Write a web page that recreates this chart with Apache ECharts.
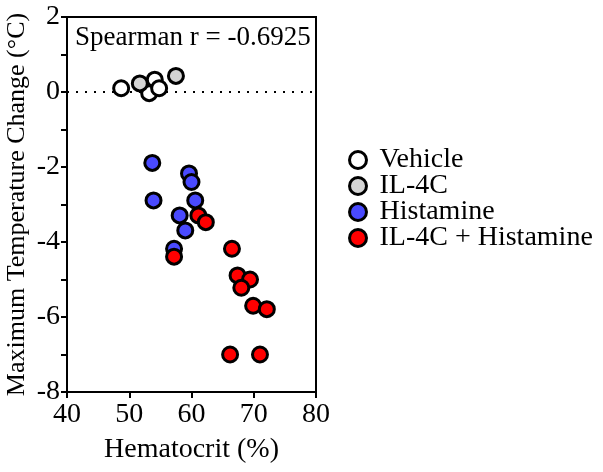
<!DOCTYPE html>
<html>
<head>
<meta charset="utf-8">
<script src="https://cdn.jsdelivr.net/npm/echarts@6/dist/echarts.min.js"></script>
<style>
  html, body { margin: 0; padding: 0; background: #fff; }
  #container { width: 603px; height: 472px; }
</style>
</head>
<body>
<div id="container"></div>
<script>
// hematocrit (%) vs max temperature change (°C), one array per group
var vehicle = [[48.7, 0.1], [53.2, -0.03], [54.1, 0.33], [54.8, 0.1]];
var il4c = [[51.7, 0.23], [57.5, 0.43]];
var histamine = [[53.7, -1.89], [59.6, -2.17], [60.0, -2.4], [53.9, -2.89], [60.6, -2.89],
                 [58.1, -3.29], [59.0, -3.69], [57.2, -4.18]];
var il4cHistamine = [[61.1, -3.29], [62.3, -3.47], [66.5, -4.18], [57.2, -4.39], [67.4, -4.89],
                     [69.4, -5.0], [68.0, -5.22], [69.9, -5.7], [72.1, -5.79], [66.2, -7.0], [71.0, -7.0]];
var zeroLine = [[40, 0], [80, 0]];

var groupNames = ['Vehicle', 'IL-4C', 'Histamine', 'IL-4C + Histamine'];
var groupColors = ['#ffffff', '#d4d4d4', '#4a4aff', '#ff0000'];
var xTicks = [40, 50, 60, 70, 80];
var yLabelTicks = [-8, -6, -4, -2, 0, 2];
var statText = 'Spearman r = -0.6925';

var serif = 'Liberation Serif';

function makeSeries(name, color, data){
    return {
        name: name,
        type: 'scatter',
        data: data,
        symbol: 'circle',
        symbolSize: 15,
        z: 3,
        itemStyle: {
            color: color,
            borderColor: '#000',
            borderWidth: 3,
            opacity: 1
        }
    };
}

var chart = echarts.init(document.getElementById('container'));

var series = [
    {
        name: 'zero',
        type: 'line',
        data: zeroLine,
        symbol: 'none',
        silent: true,
        z: 1,
        lineStyle: { color: '#000', width: 2, type: [2, 7] }
    },
    makeSeries(groupNames[0], groupColors[0], vehicle),
    makeSeries(groupNames[1], groupColors[1], il4c),
    makeSeries(groupNames[2], groupColors[2], histamine),
    makeSeries(groupNames[3], groupColors[3], il4cHistamine)
];

var option = {
    backgroundColor: '#fff',
    animation: false,
    textStyle: { fontFamily: serif },
    title: {
        text: statText,
        left: 70,
        top: 19,
        textStyle: { fontFamily: serif, fontSize: 27, fontWeight: 'normal', color: '#000' }
    },
    legend: {
        orient: 'vertical',
        left: 343,
        top: 141,
        itemGap: -2,
        itemWidth: 17,
        itemHeight: 17,
        icon: 'circle',
        itemStyle: { borderWidth: 3, borderColor: '#000' },
        textStyle: { fontFamily: serif, fontSize: 28, color: '#000', padding: [0, 0, 0, 8] },
        data: groupNames
    },
    grid: {
        left: 67,
        right: 287,
        top: 17,
        bottom: 80,
        show: true,
        borderColor: '#000',
        borderWidth: 2,
        backgroundColor: 'transparent'
    },
    xAxis: {
        type: 'value',
        min: xTicks[0],
        max: xTicks[xTicks.length - 1],
        interval: 10,
        name: 'Hematocrit (%)',
        nameLocation: 'middle',
        nameGap: 44,
        nameTextStyle: { fontFamily: serif, fontSize: 28, color: '#000' },
        axisLine: { onZero: false, lineStyle: { color: '#000', width: 2 } },
        axisTick: { show: true, length: 6, lineStyle: { color: '#000', width: 2 } },
        axisLabel: { fontFamily: serif, fontSize: 28, color: '#000', margin: 9 },
        splitLine: { show: false }
    },
    yAxis: {
        type: 'value',
        min: yLabelTicks[0],
        max: yLabelTicks[yLabelTicks.length - 1],
        interval: 1,
        name: 'Maximum Temperature Change (°C)',
        nameLocation: 'middle',
        nameGap: 37,
        nameTextStyle: { fontFamily: serif, fontSize: 26, color: '#000' },
        axisLine: { onZero: false, lineStyle: { color: '#000', width: 2 } },
        axisTick: { show: true, length: 6, lineStyle: { color: '#000', width: 2 } },
        axisLabel: {
            fontFamily: serif, fontSize: 28, color: '#000', margin: 7,
            formatter: function (v) {
                return yLabelTicks.indexOf(v) >= 0 ? String(v) : '';
            }
        },
        splitLine: { show: false }
    },
    series: series
};

chart.setOption(option);
</script>
</body>
</html>
